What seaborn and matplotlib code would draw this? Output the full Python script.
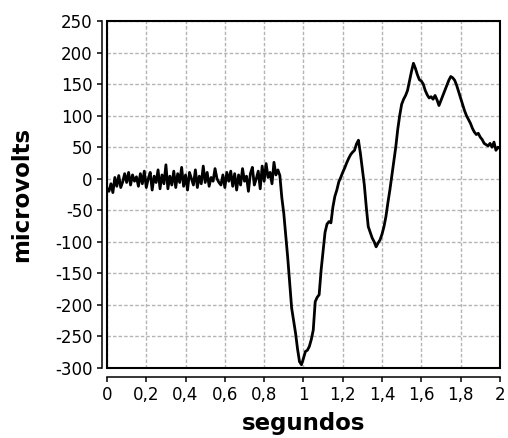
import numpy as np
import pandas as pd
import matplotlib
matplotlib.use("Agg")
import matplotlib.pyplot as plt
import seaborn as sns
from matplotlib.patches import Rectangle

# sampling step of the trace (seconds)
step = 0.01

# microvolts, one value every 0.01 s from 0 to 2 s
baseline = [-15, -20, -8, -22, 2, -12, 5, -14, -5, 8,
            -6, 10, -10, 6, -4, 3, -12, 8, -8, 12,
            -14, 0, 10, -18, 4, -6, 14, -16, 6, -8,
            22, -16, 4, -10, 12, -14, 8, -6, 18, -12,
            6, -18, 10, 0, -10, 14, -14, 4, -8, 20,
            -6, 10, -12, 2, -4, 16, 0, -6, -10, 6,
            -14, 10, -4, 12, -12, 8, -18, 6, -10, 16,
            -4, 4, -20, 8, 18, -10, 0, 12, -16, 20,
            -4, 24, 2, 10, -8, 26, 6, 14]
response = [5, -30, -55, -90, -125, -165, -205, -225, -245, -270,
            -290, -295, -285, -274, -272, -266, -255, -240, -195, -188,
            -184, -145, -115, -85, -72, -68, -70, -45, -28, -18,
            -5, 2, 10, 17, 25, 32, 38, 42, 45, 55,
            61, 40, 15, -10, -45, -76, -85, -94, -100, -108,
            -102, -97, -88, -76, -60, -38, -18, 5, 28, 50,
            78, 100, 118, 126, 132, 140, 155, 170, 183, 175,
            165, 157, 155, 150, 140, 133, 128, 130, 126, 132,
            125, 116, 124, 132, 140, 148, 156, 162, 160, 156,
            148, 138, 128, 118, 108, 100, 94, 88, 80, 74,
            70, 72, 66, 62, 56, 54, 52, 56, 50, 58,
            45, 50, 48]
microvolts = baseline + response
segundos = np.round(np.arange(len(microvolts)) * step, 2)

xticks = [0, 0.2, 0.4, 0.6, 0.8, 1, 1.2, 1.4, 1.6, 1.8, 2]
xticklabels = ["0", "0,2", "0,4", "0,6", "0,8", "1", "1,2", "1,4", "1,6", "1,8", "2"]
yticks = [-300, -250, -200, -150, -100, -50, 0, 50, 100, 150, 200, 250]

df = pd.DataFrame({"segundos": segundos, "microvolts": microvolts})

sns.set_style("white")
plt.rcParams['font.family'] = ['DejaVu Sans']
plt.rcParams['text.color'] = 'black'
plt.rcParams['axes.labelcolor'] = 'black'

fig = plt.figure(figsize=(5.08, 4.38), dpi=100)
ax = fig.add_axes([0.2106, 0.160, 0.7734, 0.792])

sns.lineplot(data=df, x="segundos", y="microvolts", color="black", linewidth=2.0, ax=ax)

ax.set_xlim(0, 2)
ax.set_ylim(-300, 250)
ax.set_xticks(xticks)
ax.set_xticklabels(xticklabels)
ax.set_yticks(yticks)
ax.set_yticklabels([str(v) for v in yticks])
ax.grid(True, color="#b4b4b4", linestyle=(0, (2.5, 1.5)), linewidth=1)

# offset axis lines plus a closed frame round the plot
for side in ["top", "right"]:
    ax.spines[side].set_visible(False)
ax.spines["left"].set_position(("outward", 3.8))
ax.spines["bottom"].set_position(("outward", 6.5))
for side in ["left", "bottom"]:
    ax.spines[side].set_linewidth(1.1)
    ax.spines[side].set_color("black")
ax.add_patch(Rectangle((0, 0), 1, 1, transform=ax.transAxes, fill=False,
                       edgecolor="black", linewidth=1.5, clip_on=False, zorder=5))

ax.tick_params(axis="both", direction="out", length=3.5, width=1.1, colors="black",
               labelsize=12, pad=3, left=True, bottom=True)
ax.set_xlabel("segundos", fontsize=16.5, fontweight="bold", labelpad=6)
ax.set_ylabel("microvolts", fontsize=16.5, fontweight="bold", labelpad=16)

fig.savefig("out.png", dpi=100)
